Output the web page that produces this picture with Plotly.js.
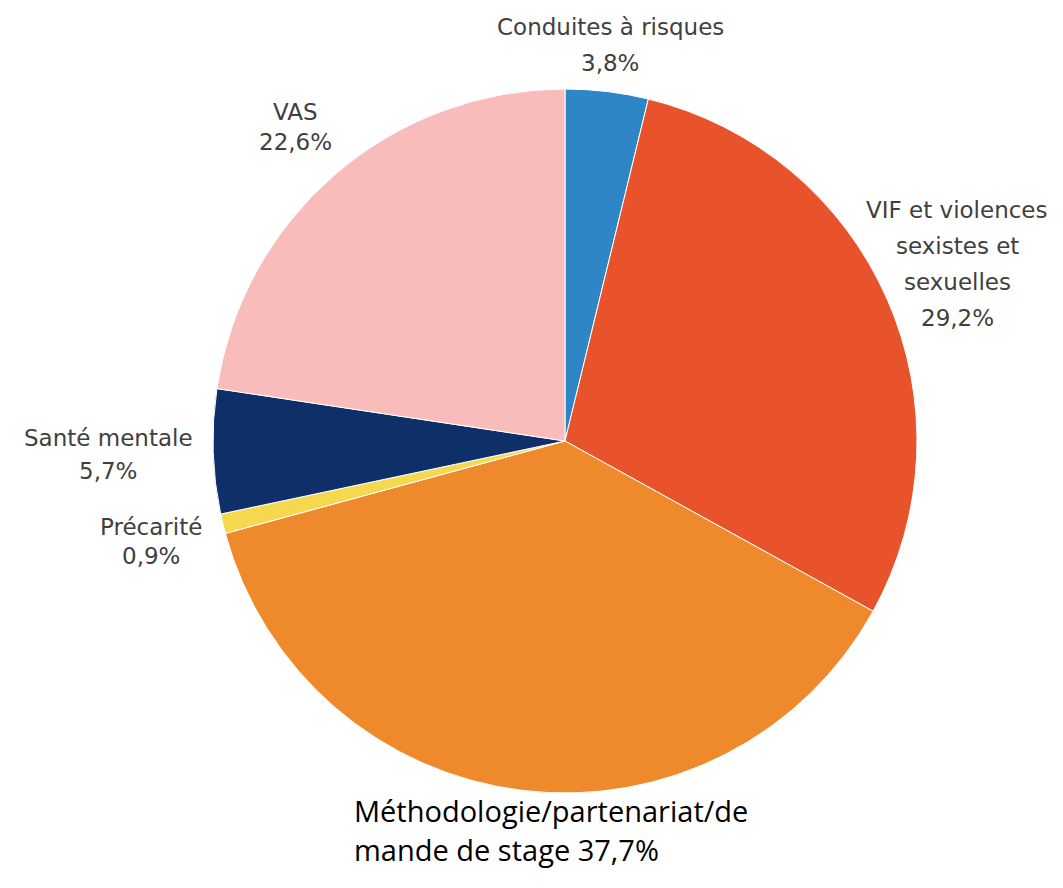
<!DOCTYPE html>
<html>
<head>
<meta charset="utf-8">
<script src="https://cdn.plot.ly/plotly-3.0.1.min.js"></script>
<style>html,body{margin:0;padding:0;background:#fff;}#chart{width:1063px;height:888px;}</style>
</head>
<body>
<div id="chart"></div>
<script>
// Data
const categories = ["Conduites à risques", "VIF et violences sexistes et sexuelles", "Méthodologie/partenariat/demande de stage", "Précarité", "Santé mentale", "VAS"];
const values = [3.8, 29.2, 37.7, 0.9, 5.7, 22.6];
const valueLabels = ["3,8%", "29,2%", "37,7%", "0,9%", "5,7%", "22,6%"];
const labelLines = [
  ["Conduites à risques", "3,8%"],
  ["VIF et violences", "sexistes et", "sexuelles", "29,2%"],
  ["Méthodologie/partenariat/de", "mande de stage 37,7%"],
  ["Précarité", "0,9%"],
  ["Santé mentale", "5,7%"],
  ["VAS", "22,6%"]
];
const colors = ["#2f86c6", "#e8532b", "#ee8a2b", "#f6d84f", "#0f2f69", "#f8bcbb"];

// Label placement (pixels: x, first line center y, line step)
const W = 1063, H = 888;
const labelPos = [
  {x: 610, y: 27, step: 36, anchor: "center"},
  {x: 957, y: 210, step: 36, anchor: "center"},
  {x: 352, y: 810, step: 39, anchor: "left"},
  {x: 151, y: 527, step: 29, anchor: "center"},
  {x: 108, y: 438, step: 33, anchor: "center"},
  {x: 295, y: 112, step: 30, anchor: "center"}
];

const annotations = [];
labelLines.forEach((lines, i) => {
  const p = labelPos[i];
  const isBottom = i === 2;
  lines.forEach((t, k) => {
    annotations.push({
      text: t,
      xref: "paper", yref: "paper",
      x: p.x / W, y: 1 - (p.y + k * p.step) / H,
      xanchor: p.anchor, yanchor: "middle",
      showarrow: false,
      font: isBottom
        ? {family: "Open Sans, sans-serif", size: 29, color: "#000000"}
        : {family: "DejaVu Sans, sans-serif", size: 23, color: "#404040"}
    });
  });
});

const cx = 565, cy = 441, r = 352;
const trace = {
  type: "pie",
  labels: categories,
  values: values,
  text: valueLabels,
  sort: false,
  direction: "clockwise",
  rotation: 0,
  textinfo: "none",
  hoverinfo: "label+text",
  marker: {colors: colors, line: {color: "#ffffff", width: 1}},
  domain: {x: [(cx - r) / W, (cx + r) / W], y: [1 - (cy + r) / H, 1 - (cy - r) / H]},
  showlegend: false
};

Plotly.newPlot("chart", [trace], {
  width: W, height: H,
  margin: {l: 0, r: 0, t: 0, b: 0},
  paper_bgcolor: "#ffffff",
  showlegend: false,
  annotations: annotations
}, {displayModeBar: false, staticPlot: true});
</script>
</body>
</html>
